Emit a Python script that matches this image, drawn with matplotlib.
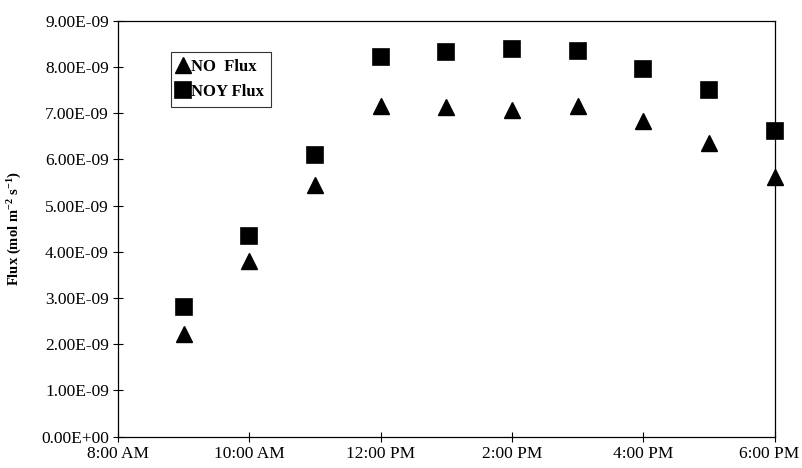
import matplotlib
matplotlib.use("Agg")
import matplotlib.pyplot as plt
from matplotlib.transforms import ScaledTranslation

# Data (hour of day)
hours = [9, 10, 11, 12, 13, 14, 15, 16, 17, 18]
no_flux = [2.21e-9, 3.79e-9, 5.45e-9, 7.15e-9, 7.13e-9, 7.07e-9, 7.15e-9, 6.82e-9, 6.35e-9, 5.61e-9]
noy_flux = [2.81e-9, 4.33e-9, 6.09e-9, 8.22e-9, 8.33e-9, 8.39e-9, 8.34e-9, 7.95e-9, 7.50e-9, 6.61e-9]

x_ticks = [8, 10, 12, 14, 16, 18]
x_tick_labels = ["8:00 AM", "10:00 AM", "12:00 PM", "2:00 PM", "4:00 PM", "6:00 PM"]
y_ticks = [i * 1e-9 for i in range(10)]
y_tick_labels = ["0.00E+00", "1.00E-09", "2.00E-09", "3.00E-09", "4.00E-09",
                 "5.00E-09", "6.00E-09", "7.00E-09", "8.00E-09", "9.00E-09"]

plt.rcParams['font.family'] = ['Liberation Serif', 'DejaVu Serif']
plt.rcParams['mathtext.default'] = 'regular'

fig = plt.figure(figsize=(8.02, 4.68), dpi=100)
ax = fig.add_axes([0.147, 0.067, 0.819, 0.889])

ax.plot(hours, no_flux, linestyle='none', marker='^', markersize=11,
        color='black', label='NO  Flux', clip_on=False, zorder=5)
ax.plot(hours, noy_flux, linestyle='none', marker='s', markersize=11.5,
        color='black', markeredgewidth=1.2, label='NOY Flux', clip_on=False, zorder=5)
for ln in ax.lines:
    ln.set_markeredgecolor('black')

ax.set_xlim(8, 18)
ax.set_ylim(0, 9e-9)
ax.set_xticks(x_ticks)
ax.set_xticklabels(x_tick_labels, fontsize=12.5)
ax.set_yticks(y_ticks)
ax.set_yticklabels(y_tick_labels, fontsize=12.5)
ax.tick_params(axis='both', direction='inout', length=7, width=0.8, color='black')
ax.tick_params(axis='x', pad=3)
ax.tick_params(axis='y', pad=3)
for s in ax.spines.values():
    s.set_linewidth(0.9)
    s.set_color('black')

# nudge last x label so it stays inside the figure
last = ax.get_xticklabels()[-1]
last.set_transform(last.get_transform() + ScaledTranslation(-4 / 72, 0, fig.dpi_scale_trans))

ax.set_ylabel(r'Flux (mol m$^{-2}$ s$^{-1}$)', fontsize=10.5, fontweight='bold', labelpad=12)

leg = ax.legend(loc='upper left', bbox_to_anchor=(0.0807, 0.925), borderaxespad=0,
                frameon=True, fancybox=False, edgecolor='black', handlelength=0.6,
                handletextpad=0.15, borderpad=0.45, labelspacing=0.5,
                prop={'size': 12, 'weight': 'bold'})
leg.get_frame().set_linewidth(0.8)

fig.savefig("out.png", dpi=100)
